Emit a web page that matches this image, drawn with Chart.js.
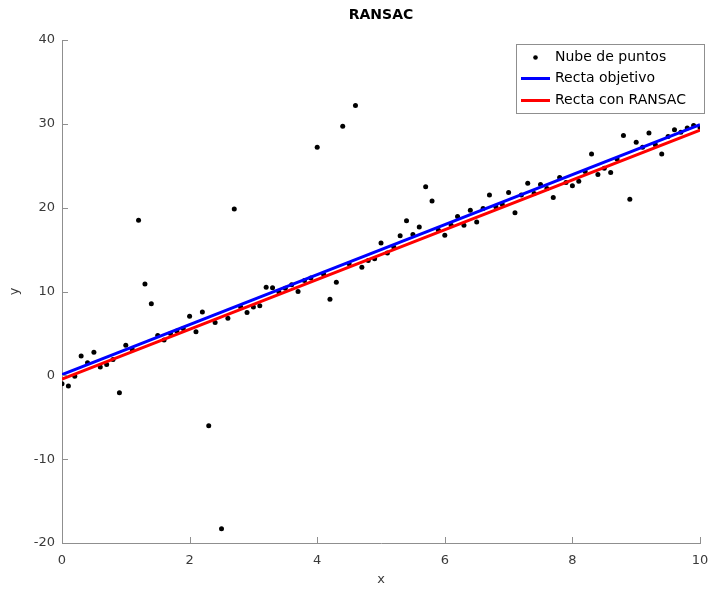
<!DOCTYPE html>
<html>
<head>
<meta charset="utf-8">
<script src="https://cdn.jsdelivr.net/npm/chart.js@4"></script>
<style>
  html, body { margin: 0; padding: 0; background: #fff; }
  #wrap { width: 712px; height: 590px; }
</style>
</head>
<body>
<div id="wrap"><canvas id="ransac" width="712" height="590"></canvas></div>
<script>
'use strict';

// point cloud: x positions and measured y values
const puntosX = [
  0.0, 0.1, 0.2, 0.3, 0.4, 0.5, 0.6, 0.7, 0.8, 0.9,
  1.0, 1.1, 1.2, 1.3, 1.4, 1.5, 1.6, 1.7, 1.8, 1.9,
  2.0, 2.1, 2.2, 2.3, 2.4, 2.5, 2.6, 2.7, 2.8, 2.9,
  3.0, 3.1, 3.2, 3.3, 3.4, 3.5, 3.6, 3.7, 3.8, 3.9,
  4.0, 4.1, 4.2, 4.3, 4.4, 4.5, 4.6, 4.7, 4.8, 4.9,
  5.0, 5.1, 5.2, 5.3, 5.4, 5.5, 5.6, 5.7, 5.8, 5.9,
  6.0, 6.1, 6.2, 6.3, 6.4, 6.5, 6.6, 6.7, 6.8, 6.9,
  7.0, 7.1, 7.2, 7.3, 7.4, 7.5, 7.6, 7.7, 7.8, 7.9,
  8.0, 8.1, 8.2, 8.3, 8.4, 8.5, 8.6, 8.7, 8.8, 8.9,
  9.0, 9.1, 9.2, 9.3, 9.4, 9.5, 9.6, 9.7, 9.8, 9.9,
  10.0
];
const puntosY = [
  -1.0, -1.27, -0.1, 2.3, 1.5, 2.75, 1.0, 1.3, 1.9, -2.07,
  3.6, 3.1, 18.5, 10.9, 8.55, 4.75, 4.2, 5.0, 5.3, 5.6,
  7.05, 5.2, 7.55, -6.0, 6.3, -18.3, 6.8, 19.85, 8.15, 7.5,
  8.15, 8.3, 10.5, 10.45, 9.95, 10.4, 10.8, 10.0, 11.3, 11.6,
  27.2, 12.05, 9.07, 11.1, 29.7, 13.3, 32.2, 12.9, 13.7, 13.9,
  15.8, 14.6, 15.3, 16.65, 18.45, 16.8, 17.7, 22.5, 20.8, 17.3,
  16.7, 17.9, 18.95, 17.9, 19.7, 18.3, 19.9, 21.5, 20.1, 20.4,
  21.8, 19.4, 21.5, 22.9, 21.7, 22.75, 22.3, 21.2, 23.6, 23.0,
  22.6, 23.15, 24.3, 26.4, 23.95, 24.7, 24.2, 25.8, 28.6, 21.0,
  27.8, 27.2, 28.9, 27.5, 26.4, 28.5, 29.3, 29.0, 29.5, 29.8,
  29.55
];

// end points of the two fitted lines
const rectaX = [0, 10];
const objetivoY = [0.1, 29.9];
const ransacY = [-0.45, 29.25];

const xTicks = [0, 2, 4, 6, 8, 10];
const yTicks = [-20, -10, 0, 10, 20, 30, 40];

const etiquetas = ['Nube de puntos', 'Recta objetivo', 'Recta con RANSAC'];

const FONT = 'DejaVu Sans';
const AXIS_COLOR = '#8f8f8f';
const TEXT_COLOR = '#3a3a3a';

const toXY = (xs, ys) => xs.map((x, i) => ({ x: x, y: ys[i] }));

// small inward tick marks on the left and bottom axes
const innerTicks = {
  id: 'innerTicks',
  afterDraw(chart) {
    const { ctx, chartArea, scales } = chart;
    ctx.save();
    ctx.strokeStyle = AXIS_COLOR;
    ctx.lineWidth = 1;
    ctx.beginPath();
    xTicks.forEach(v => {
      const px = Math.round(scales.x.getPixelForValue(v)) + 0.5;
      ctx.moveTo(px, chartArea.bottom);
      ctx.lineTo(px, chartArea.bottom - 6);
    });
    yTicks.forEach(v => {
      const py = Math.round(scales.y.getPixelForValue(v)) + 0.5;
      ctx.moveTo(chartArea.left, py);
      ctx.lineTo(chartArea.left + 6, py);
    });
    ctx.stroke();
    ctx.restore();
  }
};

// title on top and boxed legend in the upper right corner
const titleAndLegend = {
  id: 'titleAndLegend',
  afterDraw(chart) {
    const { ctx, chartArea } = chart;
    ctx.save();
    ctx.fillStyle = '#000';
    ctx.font = 'bold 14px "' + FONT + '"';
    ctx.textAlign = 'center';
    ctx.textBaseline = 'middle';
    ctx.fillText('RANSAC', (chartArea.left + chartArea.right) / 2, 15);

    const bx = 516.5, by = 44.5, bw = 188, bh = 69;
    ctx.fillStyle = '#fff';
    ctx.fillRect(bx, by, bw, bh);
    ctx.strokeStyle = '#8f8f8f';
    ctx.lineWidth = 1;
    ctx.strokeRect(bx, by, bw, bh);

    const rows = [57.5, 78.5, 100.5];
    const ds = chart.data.datasets;
    ctx.font = '14px "' + FONT + '"';
    ctx.textAlign = 'left';
    ctx.fillStyle = '#000';
    ctx.beginPath();
    ctx.arc(535.5, rows[0], 2.3, 0, Math.PI * 2);
    ctx.fill();
    [1, 2].forEach(i => {
      ctx.strokeStyle = ds[i].borderColor;
      ctx.lineWidth = 3;
      ctx.beginPath();
      ctx.moveTo(521, rows[i]);
      ctx.lineTo(550, rows[i]);
      ctx.stroke();
    });
    ctx.fillStyle = '#000';
    etiquetas.forEach((t, i) => ctx.fillText(t, 555, rows[i]));
    ctx.restore();
  }
};

const ctx = document.getElementById('ransac').getContext('2d');

new Chart(ctx, {
  type: 'scatter',
  data: {
    datasets: [
      {
        label: etiquetas[0],
        data: toXY(puntosX, puntosY),
        backgroundColor: '#000',
        borderColor: '#000',
        pointRadius: 2.5,
        pointBorderWidth: 0,
        showLine: false,
        order: 3
      },
      {
        label: etiquetas[1],
        data: toXY(rectaX, objetivoY),
        borderColor: '#0000ff',
        backgroundColor: '#0000ff',
        borderWidth: 3,
        pointRadius: 0,
        showLine: true,
        order: 2
      },
      {
        label: etiquetas[2],
        data: toXY(rectaX, ransacY),
        borderColor: '#ff0000',
        backgroundColor: '#ff0000',
        borderWidth: 3,
        pointRadius: 0,
        showLine: true,
        order: 1
      }
    ]
  },
  options: {
    responsive: false,
    animation: false,
    layout: { padding: { top: 40, right: 12, left: 0, bottom: 0 } },
    plugins: {
      legend: { display: false },
      title: { display: false },
      tooltip: { enabled: false }
    },
    scales: {
      x: {
        type: 'linear',
        min: 0,
        max: 10,
        afterBuildTicks: s => { s.ticks = xTicks.map(v => ({ value: v })); },
        afterFit: s => { s.height = 47; s.paddingLeft = 0; s.paddingRight = 0; },
        grid: { display: true, drawOnChartArea: false, drawTicks: false },
        border: { color: AXIS_COLOR, width: 1 },
        ticks: { color: TEXT_COLOR, padding: 10, font: { family: FONT, size: 13 } },
        title: { display: true, text: 'x', color: TEXT_COLOR, padding: { top: 0, bottom: 3 }, font: { family: FONT, size: 13 } }
      },
      y: {
        type: 'linear',
        min: -20,
        max: 40,
        afterBuildTicks: s => { s.ticks = yTicks.map(v => ({ value: v })); },
        afterFit: s => { s.width = 62; s.paddingTop = 0; s.paddingBottom = 0; },
        grid: { display: true, drawOnChartArea: false, drawTicks: false },
        border: { color: AXIS_COLOR, width: 1 },
        ticks: { color: TEXT_COLOR, padding: 7, font: { family: FONT, size: 13 } },
        title: { display: true, text: 'y', color: TEXT_COLOR, padding: { top: 7, bottom: 0 }, font: { family: FONT, size: 13 } }
      }
    }
  },
  plugins: [innerTicks, titleAndLegend]
});
</script>
</body>
</html>
